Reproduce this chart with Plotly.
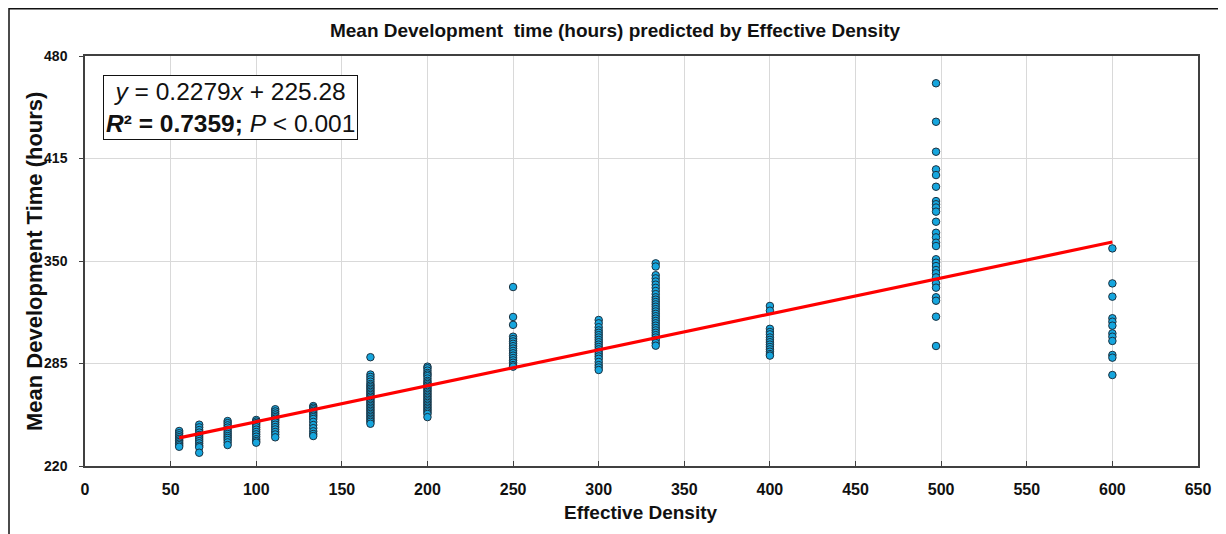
import plotly.graph_objects as go

# ---- data ----
dens_55 = [242.2, 240.8, 239.5, 238.3, 237.2, 236.2, 235.2, 234.2, 233.2, 232.2]
dens_67 = [246.2, 244.5, 242.8, 241.2, 239.7, 238.4, 237.1, 235.8, 234.4, 232.9, 231.9, 228.4]
dens_83 = [248.5, 247.2, 245.8, 244.4, 243.0, 241.6, 240.3, 239.0, 237.8, 236.5, 235.0, 233.3]
dens_100 = [249.2, 248.2, 247.2, 246.0, 244.6, 243.1, 241.6, 240.1, 238.6, 237.0, 235.8, 234.8]
dens_111 = [256.0, 254.6, 253.3, 252.1, 251.0, 250.0, 248.9, 247.6, 246.2, 244.7, 243.2, 241.6, 240.0, 238.2]
dens_133 = [258.0, 257.0, 256.0, 255.0, 254.0, 253.0, 252.0, 251.0, 249.8, 248.0, 246.0, 244.0, 242.0, 240.3, 239.0]
dens_167 = [289.0, 278.0, 276.5, 275.0, 273.5, 272.0, 271.0, 270.0, 269.0, 268.0, 267.0, 266.0, 265.0,
            264.0, 263.0, 262.0, 261.0, 260.0, 259.0, 258.0, 257.0, 256.0, 255.0, 254.0, 253.0,
            252.0, 251.0, 250.0, 249.0, 248.0, 246.8]
dens_200 = [283.0, 282.0, 280.5, 279.0, 278.0, 277.0, 275.5, 274.0, 273.0, 272.0, 271.0, 270.0, 269.0,
            268.0, 267.0, 266.0, 265.0, 264.0, 263.0, 262.0, 261.0, 260.0, 259.0, 258.0, 257.0,
            256.0, 255.0, 254.0, 253.0, 251.0]
dens_250 = [333.5, 314.5, 309.5, 302.0, 300.5, 299.0, 297.5, 296.0, 294.5, 293.0, 291.5, 290.0, 288.5,
            287.0, 285.5, 284.0, 283.0]
dens_300 = [312.6, 310.5, 308.0, 306.0, 304.5, 303.0, 301.5, 300.0, 298.5, 297.0, 295.5, 294.0, 292.5,
            291.0, 289.5, 288.0, 286.0, 284.0, 282.5, 280.9]
dens_333 = [348.5, 346.5, 341.0, 339.0, 337.0, 335.0, 333.0, 331.0, 329.0, 327.0, 325.5, 324.0, 322.5,
            321.0, 319.5, 318.0, 316.5, 315.0, 313.5, 312.0, 310.5, 309.0, 307.5, 306.0, 304.5,
            303.0, 301.5, 300.0, 298.0, 296.3]
dens_400 = [321.5, 318.5, 307.0, 305.0, 303.5, 301.5, 300.0, 298.5, 297.0, 295.5, 294.0, 292.5, 291.0, 290.0]
dens_497 = [462.7, 438.3, 419.3, 408.1, 404.5, 397.1, 388.0, 386.0, 383.9, 381.3, 374.9, 367.9, 365.0,
            361.6, 359.5, 351.1, 348.9, 346.8, 344.3, 342.2, 339.6, 335.9, 333.1, 327.0, 324.8,
            314.7, 296.1]
dens_600 = [358.0, 335.8, 327.4, 313.7, 311.5, 309.0, 304.1, 302.0, 299.3, 290.4, 288.7, 277.7]

densities = [55, 66.7, 83.3, 100, 111.1, 133.3, 166.7, 200, 250, 300, 333.3, 400, 497, 600]
groups = [dens_55, dens_67, dens_83, dens_100, dens_111, dens_133, dens_167, dens_200,
          dens_250, dens_300, dens_333, dens_400, dens_497, dens_600]

slope = 0.2279
intercept = 225.28
fit_x = [55, 600]

x_ticks = list(range(0, 651, 50))
y_ticks = [220, 285, 350, 415, 480]

# ---- build ----
xs, ys = [], []
for d, g in zip(densities, groups):
    xs += [d] * len(g)
    ys += g

fig = go.Figure()
fig.add_trace(go.Scatter(
    x=xs, y=ys, mode="markers",
    marker=dict(size=7.5, color="#16A6DE", line=dict(color="#1c3140", width=1)),
    showlegend=False, hoverinfo="x+y"))
fig.add_trace(go.Scatter(
    x=fit_x, y=[slope * v + intercept for v in fit_x], mode="lines",
    line=dict(color="#FF0000", width=3.2), showlegend=False))

FONT = "Liberation Sans, Arial, sans-serif"

# page body has an 8px margin: figure is offset so the plot sits where the reference has it
W, H = 1218, 526
L, T, R, B = 77, 48, 28, 68
PW, PH = W - L - R, H - T - B


def px_x(sx):
    return (sx - 8 - L) / PW


def px_y(sy):
    return (T + PH - (sy - 8)) / PH


fig.update_layout(
    width=W, height=H, autosize=False,
    margin=dict(l=L, r=R, t=T, b=B),
    paper_bgcolor="white", plot_bgcolor="white",
    font=dict(family=FONT, color="#111111"),
    title=dict(text="<b>Mean Development  time (hours) predicted by Effective Density</b>",
               x=(615 - 8) / W, xref="container", y=1 - (30 - 8) / H, yref="container",
               xanchor="center", yanchor="middle",
               font=dict(size=19, family=FONT, color="#111111")),
    xaxis=dict(range=[0, 650], tickvals=x_ticks, ticktext=[f"<b>{v}</b>" for v in x_ticks],
               automargin=False,
               showgrid=True, gridcolor="#D9D9D9", gridwidth=1,
               showline=True, linecolor="#404040", linewidth=1.5, mirror=True,
               ticks="inside", ticklen=5, tickcolor="#404040",
               ticklabelstandoff=8,
               tickfont=dict(size=16, family=FONT, color="#111111"),
               zeroline=False),
    yaxis=dict(range=[220, 480], tickvals=y_ticks, ticktext=[f"<b>{v}</b>" for v in y_ticks],
               automargin=False,
               showgrid=True, gridcolor="#D9D9D9", gridwidth=1,
               showline=True, linecolor="#404040", linewidth=1.5, mirror=True,
               ticks="outside", ticklen=4, tickcolor="#404040",
               ticklabelstandoff=9,
               tickfont=dict(size=14, family=FONT, color="#111111"),
               zeroline=False),
    annotations=[
        dict(xref="paper", yref="paper", x=px_x(103), y=px_y(75),
             xanchor="left", yanchor="top", showarrow=False, align="center",
             text="<i>y</i> = 0.2279<i>x</i> + 225.28<br><b><i>R</i>² = 0.7359;</b> <i>P</i> &lt; 0.001",
             font=dict(size=24.5, family=FONT, color="#111111"),
             bordercolor="#111111", borderwidth=1, borderpad=2, bgcolor="white"),
        dict(xref="paper", yref="paper", x=px_x(641), y=px_y(512),
             xanchor="center", yanchor="middle", showarrow=False,
             text="<b>Effective Density</b>",
             font=dict(size=19, family=FONT, color="#111111")),
        dict(xref="paper", yref="paper", x=px_x(34), y=px_y(262),
             xanchor="center", yanchor="middle", showarrow=False, textangle=-90,
             text="<b>Mean Development Time (hours)</b>",
             font=dict(size=22, family=FONT, color="#111111")),
    ],
    shapes=[dict(type="rect", xref="paper", yref="paper",
                 x0=px_x(9), x1=px_x(1224),
                 y0=px_y(560), y1=px_y(8.8),
                 line=dict(color="#111111", width=1.5), fillcolor="rgba(0,0,0,0)", layer="below")],
)

fig.write_html("out.html")
